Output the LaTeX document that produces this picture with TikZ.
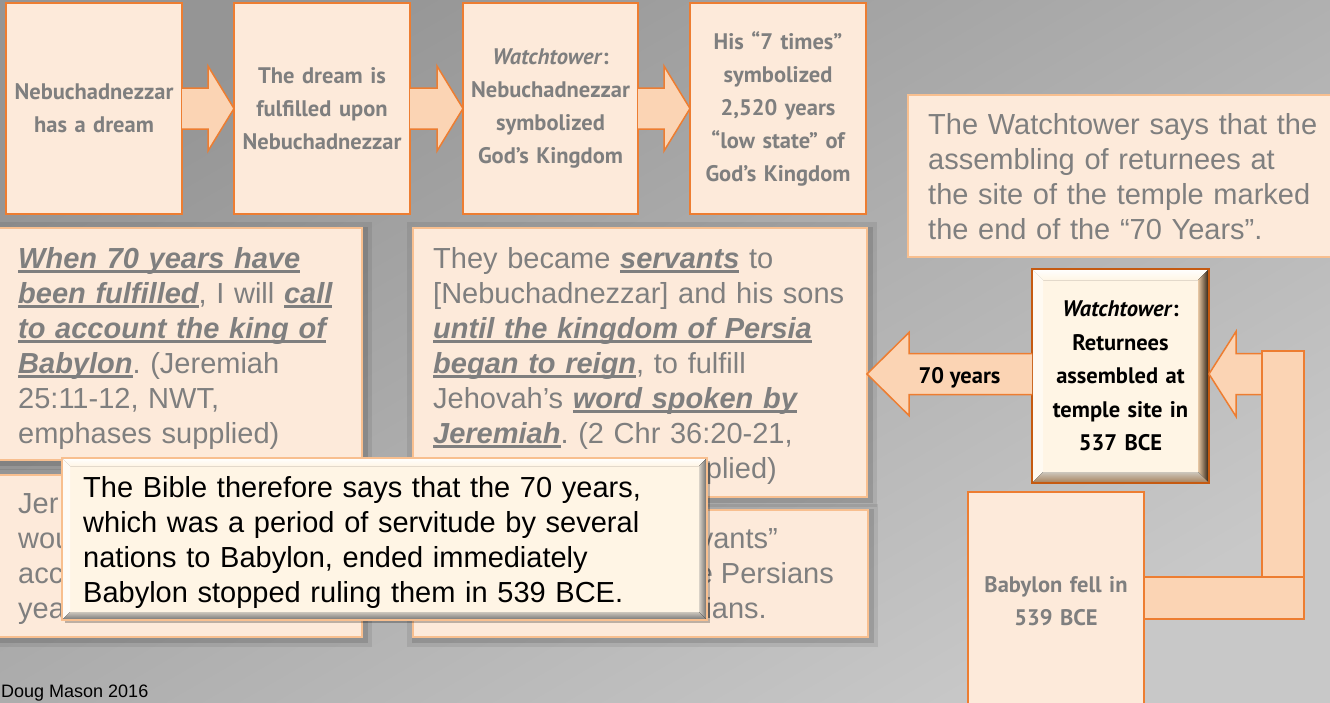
\documentclass[tikz,border=0pt]{standalone}
\usepackage{fontspec}
\setmainfont{Liberation Sans}
\newfontfamily\uncfont{PT Sans}
\usetikzlibrary{calc}
\frenchspacing
\definecolor{boxfill}{HTML}{FDEADA}
\definecolor{orgline}{HTML}{ED7D31}
\definecolor{softline}{HTML}{F8BF8F}
\definecolor{arrowfill}{HTML}{FBD4B4}
\definecolor{txtgray}{HTML}{7F7F7F}
\definecolor{cream}{HTML}{FFF5E5}
\definecolor{wline}{HTML}{C55A11}
\definecolor{bgdark}{HTML}{959595}
\definecolor{bglight}{HTML}{C8C8C8}
\newcommand\myul[1]{\setbox0\hbox{#1}\rlap{\rule[-4.6pt]{\wd0}{2.3pt}}\box0}
\newcommand\emu[1]{\textbf{\textit{\myul{#1}}}}
\newcommand\rarrow[2]{\filldraw[blockarrow] ($(#1.east)+(0,-20.5)$) -- ($(#2.west)+(-26,-20.5)$) -- ($(#2.west)+(-26,-42.5)$) -- (#2.west) -- ($(#2.west)+(-26,42.5)$) -- ($(#2.west)+(-26,20.5)$) -- ($(#1.east)+(0,20.5)$);}
\newcommand\bevel[6]{%
  \fill[#3] (#1.north west) -- (#1.north east) -- ([xshift=-#2,yshift=-#2]#1.north east) -- ([xshift=#2,yshift=-#2]#1.north west) -- cycle;
  \fill[#4] (#1.north west) -- ([xshift=#2,yshift=-#2]#1.north west) -- ([xshift=#2,yshift=#2]#1.south west) -- (#1.south west) -- cycle;
  \fill[#5] (#1.north east) -- (#1.south east) -- ([xshift=-#2,yshift=#2]#1.south east) -- ([xshift=-#2,yshift=-#2]#1.north east) -- cycle;
  \fill[#6] (#1.south west) -- (#1.south east) -- ([xshift=-#2,yshift=#2]#1.south east) -- ([xshift=#2,yshift=#2]#1.south west) -- cycle;}
\tikzset{
  topbox/.style={draw=orgline, line width=1.5pt, fill=boxfill, minimum width=176pt, minimum height=211pt,
    text width=172pt, align=center, inner sep=0pt, outer sep=0pt, text=txtgray,
    font=\uncfont\bfseries\fontsize{22.5}{33}\selectfont},
  blockarrow/.style={draw=orgline, line width=1.5pt, fill=arrowfill, line join=miter},
  midbox/.style={draw=softline, line width=2pt, fill=boxfill, inner sep=0pt, outer sep=0pt,
    preaction={draw=black, draw opacity=0.08, line width=16pt, transform canvas={xshift=2pt,yshift=-2pt}},
    preaction={draw=black, draw opacity=0.12, line width=7pt, transform canvas={xshift=2pt,yshift=-2pt}}},
  trbox/.style={draw=softline, line width=2.5pt, fill=boxfill, inner sep=0pt, outer sep=0pt},
  bodytext/.style={anchor=base west, inner sep=0pt, text=txtgray, align=left,
    font=\fontsize{29}{35}\selectfont},
  frag/.style={inner sep=0pt, text=txtgray, font=\fontsize{29}{35}\selectfont},
  wbox/.style={fill=cream, minimum width=177pt, minimum height=214pt, text width=172pt, align=center,
    inner sep=0pt, outer sep=0pt, text=black, font=\uncfont\bfseries\fontsize{22.5}{33.5}\selectfont},
  ovbox/.style={fill=cream, inner sep=0pt, outer sep=0pt,
    preaction={fill=black, fill opacity=0.25, transform canvas={xshift=3pt,yshift=-3pt}}},
}
\begin{document}
\begin{tikzpicture}[x=1pt,y=-1pt]
\useasboundingbox (0,0) rectangle (1330,702);
\clip (0,0) rectangle (1330,702);
\shade[top color=bgdark, bottom color=bglight, shading angle=30] (0,0) rectangle (1330,702);

% top row
\node[topbox] (b1) at (94,108.5) {Nebuchadnezzar\\has a dream};
\node[topbox] (b2) at (322,108.5) {The dream is\\fulfilled upon\\Nebuchadnezzar};
\node[topbox, minimum width=175pt] (b3) at (550.5,108.5) {\textit{Watchtower}:\\Nebuchadnezzar\\symbolized\\God’s Kingdom};
\node[topbox] (b4) at (778,108.5) {His “7 times”\\symbolized\\2,520 years\\“low state” of\\God’s Kingdom};
\rarrow{b1}{b2}
\rarrow{b2}{b3}
\rarrow{b3}{b4}

% quotation boxes
\node[midbox, minimum width=365pt, minimum height=232pt] (qa) at (179.5,344) {};
\node[midbox, minimum width=454pt, minimum height=269pt] (qb) at (640,362.5) {};
\node[midbox, minimum width=365pt, minimum height=162pt] (qc) at (179.5,556) {};
\node[midbox, minimum width=455pt, minimum height=127pt] (qd) at (640.5,573.5) {};

\node[bodytext, text width=345pt] (qat) at (18,268) {\emu{When 70 years have}\\
\emu{been fulfilled}, I will \emu{call}\\
\emu{to account the king of}\\
\emu{Babylon}. (Jeremiah\\
25:11-12, NWT,\\
emphases supplied)};
\node[bodytext, text width=430pt] (qbt) at (433,268) {They became \emu{servants} to\\
{[}Nebuchadnezzar{]} and his sons\\
\emu{until the kingdom of Persia}\\
\emu{began to reign}, to fulfill\\
Jehovah’s \emu{word spoken by}\\
\emu{Jeremiah}. (2 Chr 36:20-21,};
\node[frag, anchor=base east] (qbf) at (777,478) {plied)};
\node[bodytext, text width=100pt] (qct) at (18,513) {Jer\\wou\\acc\\yea};
\node[frag, anchor=base east] (qd1) at (778,548) {vants”};
\node[frag, anchor=base east] (qd2) at (834,583) {e Persians};
\node[frag, anchor=base east] (qd3) at (767,618) {ians.};

% overlay statement
\node[ovbox, minimum width=645pt, minimum height=162pt] (ov) at (384.5,539) {};
\bevel{ov}{8pt}{top color=white, bottom color=cream}{white!60!cream}{left color=cream!70!gray, right color=gray!80!black}{top color=cream!60!gray, bottom color=gray!90!black}
\draw[draw=softline, line width=1.5pt] (ov.north west) rectangle (ov.south east);
\node[bodytext, text=black, text width=620pt] (ovt) at (83,497) {The Bible therefore says that the 70 years,\\
which was a period of servitude by several\\
nations to Babylon, ended immediately\\
Babylon stopped ruling them in 539 BCE.};

% top right statement
\node[trbox, minimum width=427pt, minimum height=162pt] (tr) at (1121.5,176) {};
\node[bodytext, text width=400pt] (trt) at (928,134) {The Watchtower says that the\\
assembling of returnees at\\
the site of the temple marked\\
the end of the “70 Years”.};

% right side
\node[wbox] (w) at (1120.5,376) {\textit{Watchtower}:\\Returnees\\assembled at\\temple site in\\537 BCE};
\bevel{w}{11pt}{top color=white, bottom color=cream}{white!50!cream}{left color=cream!60!brown, right color=black!80!brown}{top color=cream!60!gray, bottom color=brown!60!gray}
\draw[draw=wline, line width=2pt] (w.north west) rectangle (w.south east);
\coordinate (tip70) at (867,374);
\coordinate (barL) at (1262,374);
\coordinate (wL) at (w.west |- tip70);
\coordinate (wR) at (w.east |- tip70);
\filldraw[blockarrow] ($(wL)+(0,-20.5)$) -- ($(tip70)+(42,-20.5)$) -- ($(tip70)+(42,-41.5)$) -- (tip70) -- ($(tip70)+(42,41.5)$) -- ($(tip70)+(42,20.5)$) -- ($(wL)+(0,20.5)$);
\node[anchor=base, inner sep=0pt, text=black, font=\uncfont\bfseries\fontsize{22.5}{26}\selectfont] (lbl70) at (959.5,383) {70 years};
\filldraw[blockarrow] ($(barL)+(0,-20.5)$) -- ($(wR)+(27,-20.5)$) -- ($(wR)+(27,-42.5)$) -- (wR) -- ($(wR)+(27,42.5)$) -- ($(wR)+(27,20.5)$) -- ($(barL)+(0,20.5)$);
\filldraw[blockarrow] (1262,351) rectangle (1304,619);
\node[topbox, minimum height=218pt] (bab) at (1056,601) {Babylon fell in\\539 BCE};
\filldraw[blockarrow] (bab.east |- 0,577) rectangle (1304,619);

% footer
\node[anchor=base west, inner sep=0pt, text=black, font=\fontsize{18}{20}\selectfont] (foot) at (1,697) {Doug Mason 2016};
\end{tikzpicture}
\end{document}
